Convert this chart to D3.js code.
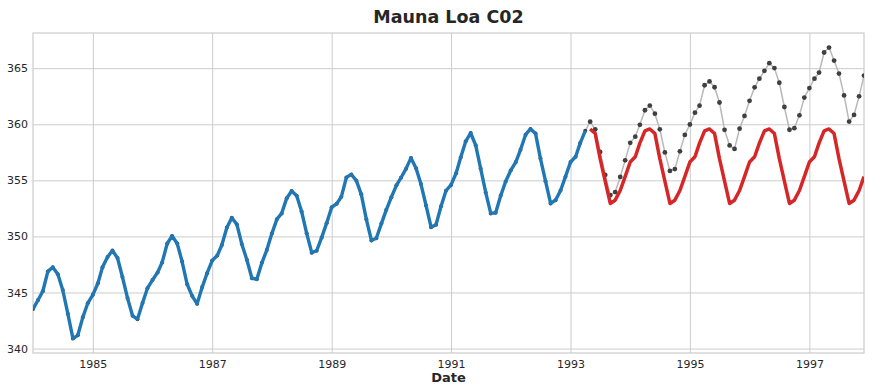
<!DOCTYPE html>
<html><head><meta charset="utf-8">
<script src="https://cdn.jsdelivr.net/npm/d3@7"></script>
<style>
html,body{margin:0;padding:0;background:#fff;}
svg{display:block;font-family:"DejaVu Sans",sans-serif;}
</style></head>
<body><svg id="chart" width="872" height="392"></svg>
<script>
// Monthly CO2 (ppm), Jan 1984 – Dec 1997
const startMonth = "1984-01";
const co2 = [
 343.52,344.33,345.11,346.88,347.25,346.62,345.22,343.11,340.90,341.18,342.80,344.04,
 344.79,345.82,347.25,348.17,348.74,348.07,346.38,344.51,342.92,342.62,344.06,345.38,
 346.11,346.78,347.68,349.37,350.03,349.37,347.76,345.73,344.68,343.99,345.48,346.72,
 347.84,348.29,349.23,350.80,351.66,351.07,349.33,347.92,346.27,346.18,347.64,348.78,
 350.25,351.54,352.05,353.41,354.04,353.62,352.22,350.27,348.55,348.72,349.91,351.18,
 352.60,352.92,353.53,355.26,355.52,354.97,353.75,351.52,349.64,349.83,351.14,352.37,
 353.50,354.55,355.23,356.04,357.00,356.07,354.67,352.76,350.82,351.04,352.69,354.07,
 354.59,355.63,357.03,358.48,359.22,358.12,356.06,353.92,352.05,352.11,353.64,354.89,
 355.88,356.63,357.72,359.07,359.58,359.17,356.94,354.92,352.94,353.23,354.09,355.33,
 356.63,357.10,358.32,359.41,360.23,359.55,357.53,355.48,353.67,353.95,355.30,356.78,
 358.34,358.89,359.95,361.25,361.67,360.94,359.55,357.49,355.84,356.00,357.59,359.05,
 359.98,361.03,361.66,363.48,363.82,363.30,361.94,359.50,358.11,357.80,359.61,360.74,
 362.09,363.29,364.06,364.76,365.45,365.01,363.70,361.54,359.51,359.65,360.80,362.38,
 363.23,364.06,364.61,366.40,366.84,365.68,364.52,362.57,360.24,360.83,362.49,364.34
];
const trainCount = 112; // Jan 1984 – Apr 1993
// Forecast, May 1993 – Dec 1997
const forecast = [
 359.58,359.17,356.94,354.92,352.94,353.23,354.09,355.33,356.63,357.10,358.32,359.41,
 359.58,359.17,356.94,354.92,352.94,353.23,354.09,355.33,356.63,357.10,358.32,359.41,
 359.58,359.17,356.94,354.92,352.94,353.23,354.09,355.33,356.63,357.10,358.32,359.41,
 359.58,359.17,356.94,354.92,352.94,353.23,354.09,355.33,356.63,357.10,358.32,359.41,
 359.58,359.17,356.94,354.92,352.94,353.23,354.09,355.33
];
const xTickYears = [1985,1987,1989,1991,1993,1995,1997];
const yTicks = [340,345,350,355,360,365];

const parse = d3.timeParse("%Y-%m");
const t0 = parse(startMonth);
const dates = co2.map((_, i) => d3.timeMonth.offset(t0, i));
const actual = co2.map((v, i) => ({d: dates[i], v}));
const train = actual.slice(0, trainCount);
const fc = forecast.map((v, i) => ({d: dates[trainCount + i], v}));

const svg = d3.select("#chart");
const m = {l: 33, r: 864, t: 33, b: 353};
const x = d3.scaleTime().domain([dates[0], dates[dates.length - 1]]).range([m.l, m.r]);
const ymin = d3.min(co2), ymax = d3.max(co2), pad = (ymax - ymin) * 0.05;
const y = d3.scaleLinear().domain([ymin - pad, ymax + pad]).range([m.b, m.t]);

const grid = "#cccccc", txt = "#262626";

// grid
const xAxis = d3.axisBottom(x).tickValues(xTickYears.map(yr => new Date(yr, 0, 1)))
  .tickFormat(d3.timeFormat("%Y")).tickSize(-(m.b - m.t)).tickPadding(7);
const gx = svg.append("g").attr("transform", `translate(0,${m.b})`).call(xAxis);
gx.select(".domain").remove();
gx.selectAll(".tick line").attr("stroke", grid).attr("stroke-width", 1);
gx.selectAll(".tick text").attr("fill", txt).attr("font-size", 11)
  .attr("font-family", "DejaVu Sans");

const yAxis = d3.axisLeft(y).tickValues(yTicks).tickSize(-(m.r - m.l)).tickPadding(5);
const gy = svg.append("g").attr("transform", `translate(${m.l},0)`).call(yAxis);
gy.select(".domain").remove();
gy.selectAll(".tick line").attr("stroke", grid).attr("stroke-width", 1);
gy.selectAll(".tick text").attr("fill", txt).attr("font-size", 11)
  .attr("font-family", "DejaVu Sans");

// frame
svg.append("rect").attr("x", m.l).attr("y", m.t).attr("width", m.r - m.l).attr("height", m.b - m.t)
  .attr("fill", "none").attr("stroke", grid).attr("stroke-width", 1.2);

const line = d3.line().x(d => x(d.d)).y(d => y(d.v));
svg.append("clipPath").attr("id", "clip").append("rect")
  .attr("x", m.l).attr("y", m.t).attr("width", m.r - m.l).attr("height", m.b - m.t);
const plot = svg.append("g").attr("clip-path", "url(#clip)");

// actual series: grey line + dark dots
plot.append("path").datum(actual.slice(trainCount - 1)).attr("d", line)
  .attr("fill", "none").attr("stroke", "#b8b8b8").attr("stroke-width", 1.5);
plot.selectAll("circle.act").data(actual).join("circle").attr("class", "act")
  .attr("cx", d => x(d.d)).attr("cy", d => y(d.v))
  .attr("r", (d, i) => i < trainCount ? 2.0 : 2.4).attr("fill", "#404040");

// training line
plot.append("path").datum(train).attr("d", line)
  .attr("fill", "none").attr("stroke", "#1f77b4").attr("stroke-width", 3.4)
  .attr("stroke-linejoin", "round").attr("stroke-linecap", "butt");

// forecast line
plot.append("path").datum(fc).attr("d", line)
  .attr("fill", "none").attr("stroke", "#d62728").attr("stroke-width", 3.5)
  .attr("stroke-linejoin", "round");

// title and label
svg.append("text").attr("x", (m.l + m.r) / 2).attr("y", 23).attr("text-anchor", "middle")
  .attr("font-size", 17.5).attr("font-weight", "bold").attr("fill", txt).text("Mauna Loa C02");
svg.append("text").attr("x", (m.l + m.r) / 2).attr("y", 381.5).attr("text-anchor", "middle")
  .attr("font-size", 13).attr("font-weight", "bold").attr("fill", txt).text("Date");
</script></body></html>
